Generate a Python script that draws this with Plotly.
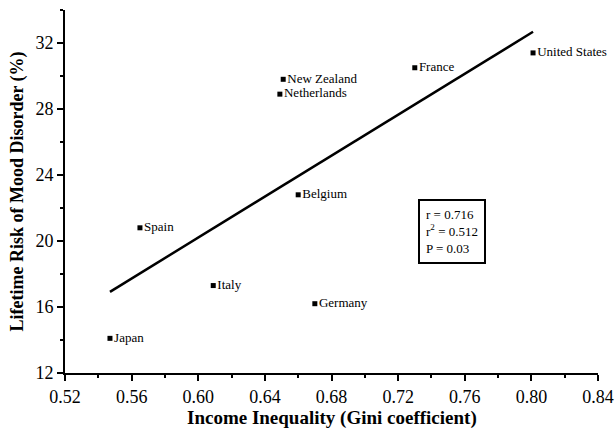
import plotly.graph_objects as go

countries = ["Japan", "Spain", "Italy", "Germany", "Belgium", "New Zealand",
             "Netherlands", "France", "United States"]
gini = [0.547, 0.565, 0.609, 0.670, 0.660, 0.651, 0.649, 0.730, 0.801]
mood_risk = [14.1, 20.8, 17.3, 16.2, 22.8, 29.8, 28.9, 30.5, 31.4]

fit_x = [0.547, 0.801]
fit_y = [16.92, 32.68]

x_ticks = [0.52, 0.56, 0.60, 0.64, 0.68, 0.72, 0.76, 0.80, 0.84]
x_tick_labels = ["0.52", "0.56", "0.60", "0.64", "0.68", "0.72", "0.76", "0.80", "0.84"]
y_ticks = [12, 16, 20, 24, 28, 32]

stats_text = "r = 0.716<br>r<sup>2</sup> = 0.512<br>P = 0.03"

FONT = "Liberation Serif"

fig = go.Figure()
fig.add_trace(go.Scatter(
    x=fit_x, y=fit_y, mode="lines",
    line=dict(color="black", width=2.5), hoverinfo="skip", showlegend=False))
fig.add_trace(go.Scatter(
    x=gini, y=mood_risk, mode="markers+text", text=countries,
    textposition="middle right", cliponaxis=False,
    textfont=dict(family=FONT, size=13, color="black"),
    marker=dict(symbol="square", size=5, color="black"),
    showlegend=False))

fig.add_annotation(
    x=0.7523, y=20.55, xref="x", yref="y", text=stats_text, showarrow=False,
    align="left", font=dict(family=FONT, size=13, color="black"),
    bordercolor="black", borderwidth=2, borderpad=6, bgcolor="white")

fig.add_annotation(
    x=0.5, y=-0.125, xref="paper", yref="paper", xanchor="center", yanchor="middle",
    text="<b>Income Inequality (Gini coefficient)</b>", showarrow=False,
    font=dict(family=FONT, size=19, color="black"))
fig.add_annotation(
    x=-0.09, y=0.5, xref="paper", yref="paper", xanchor="center", yanchor="middle",
    text="<b>Lifetime Risk of Mood Disorder (%)</b>", showarrow=False, textangle=-90,
    font=dict(family=FONT, size=18, color="black"))

fig.update_xaxes(
    range=[0.52, 0.84], tickvals=x_ticks, ticktext=x_tick_labels, automargin=False,
    showgrid=False, zeroline=False, showline=True, linecolor="black", linewidth=2,
    ticks="outside", ticklen=6, tickwidth=1.5, tickcolor="black",
    tickfont=dict(family=FONT, size=18, color="black"),
    minor=dict(ticks="outside", ticklen=3, tickwidth=1.5, tickcolor="black", dtick=0.02, tick0=0.52))
fig.update_yaxes(
    range=[12, 34], tickvals=y_ticks, automargin=False,
    showgrid=False, zeroline=False, showline=True, linecolor="black", linewidth=2,
    ticks="outside", ticklen=6, tickwidth=1.5, tickcolor="black",
    tickfont=dict(family=FONT, size=18, color="black"),
    minor=dict(ticks="outside", ticklen=3, tickwidth=1.5, tickcolor="black", dtick=2, tick0=12))

fig.update_layout(
    width=616, height=430,
    margin=dict(l=65, r=18, t=10, b=57),
    paper_bgcolor="white", plot_bgcolor="white",
    font=dict(family=FONT, color="black"))

fig.write_html("out.html", config={"displayModeBar": False},
               post_script="document.body.style.margin='0';document.body.style.padding='0';")
